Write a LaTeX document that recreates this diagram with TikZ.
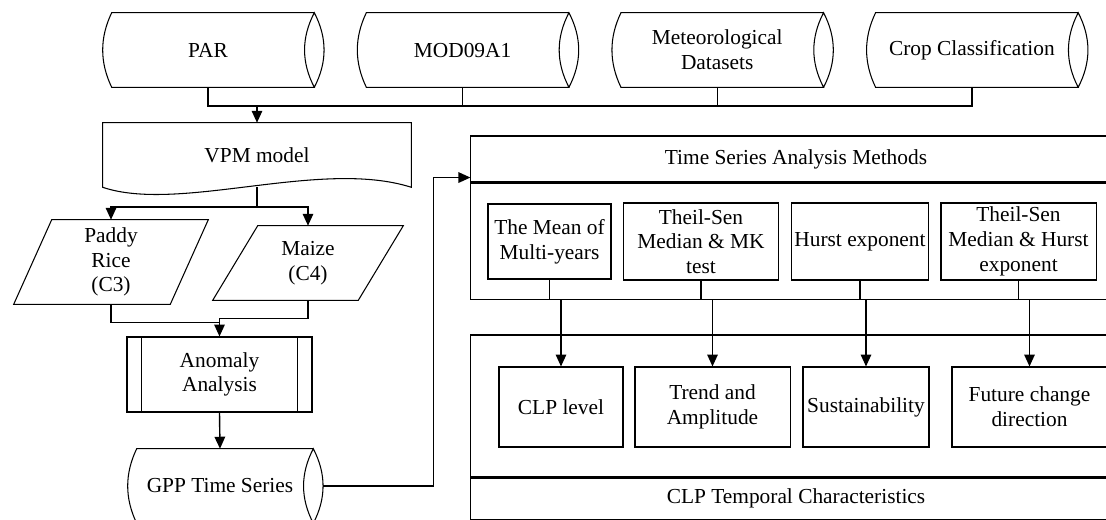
\documentclass[tikz,border=0pt]{standalone}
\usepackage{fontspec}
\setmainfont{Liberation Serif}
\usepackage{tikz}
\usetikzlibrary{arrows.meta, positioning, calc}

% data store: flat left side, lens on the right
\newcommand{\datacyl}[1]{%
  \draw[shapeline] ($(#1.north east)+(10,0)$) -- (#1.north west)
    .. controls +(-12,25) and +(-12,-25) .. (#1.south west)
    -- ($(#1.south east)+(10,0)$)
    .. controls +(-13,-25) and +(-13,25) .. ($(#1.north east)+(10,0)$)
    .. controls +(13,25) and +(13,-25) .. ($(#1.south east)+(10,0)$);
}
% document shape with a wavy bottom
\newcommand{\docshape}[1]{%
  \draw[shapeline] (#1.south west) -- (#1.north west) -- (#1.north east) -- (#1.south east)
    .. controls +(-91,-29) and +(77,26) .. (#1.south west) -- cycle;
}
% parallelogram leaning to the right
\newcommand{\slantbox}[2]{%
  \draw[shapeline] ($(#1.south west)+(-#2,0)$) -- ($(#1.north west)+(#2,0)$)
    -- ($(#1.north east)+(#2,0)$) -- ($(#1.south east)+(-#2,0)$) -- cycle;
}

\begin{document}
\begin{tikzpicture}[
    x=0.025cm, y=-0.025cm,
    node distance=1.55cm,
    shapeline/.style={line width=0.75pt},
    plain/.style={rectangle, align=center, inner sep=1pt, font=\fontsize{15.2}{17.6}\selectfont},
    box/.style={plain, draw=black, line width=0.75pt},
    cylbody/.style={plain, minimum width=4.8cm, minimum height=1.85cm},
    line/.style={line width=1pt},
    arrow/.style={-{Triangle[length=8.5pt, width=7.5pt]}, line width=1pt},
]
\path[use as bounding box] (0,0) rectangle (1106,520);
\clip (0,0) rectangle (1106,520);

% Input data
\node[cylbody] (par) at (208,50) {PAR};
\node[cylbody, right=of par] (mod) {MOD09A1};
\node[cylbody, right=of mod] (met) {Meteorological\\Datasets};
\node[cylbody, right=of met] (crop) {Crop Classification};
\datacyl{par}
\datacyl{mod}
\datacyl{met}
\datacyl{crop}

% Model and crop types
\node[plain, minimum width=7.7cm, minimum height=1.6cm] (vpm) at (257,155) {VPM model};
\docshape{vpm}
\node[plain, minimum width=3.9cm, minimum height=2.1cm] (paddy) at (111,262) {Paddy\\Rice\\(C3)};
\slantbox{paddy}{19}
\node[plain, minimum width=3.625cm, minimum height=1.85cm] (maize) at (308,263) {Maize\\(C4)};
\slantbox{maize}{22.5}

% Anomaly step and GPP output
\node[box, minimum width=4.625cm, minimum height=1.875cm] (anom) at (219.5,374.5) {Anomaly\\Analysis};
\draw[shapeline] ($(anom.north west)+(15,0)$) -- ($(anom.south west)+(15,0)$);
\draw[shapeline] ($(anom.north east)+(-15,0)$) -- ($(anom.south east)+(-15,0)$);
\node[cylbody, minimum width=4.15cm] (gpp) at (220,486) {GPP Time Series};
\datacyl{gpp}

% Time series analysis methods
\node[box, minimum width=16.25cm, minimum height=1.15cm] (tshead) at (796,159) {Time Series Analysis Methods};
\node[box, minimum width=16.25cm, minimum height=2.9cm, below=0cm of tshead] (tsbody) {};
\node[box, minimum width=3.075cm, minimum height=1.875cm] (mmean) at (549.5,241.5) {The Mean of\\Multi-years};
\node[box, minimum width=3.86cm, minimum height=1.925cm] (mmk) at (701,241.5) {Theil-Sen\\Median \& MK\\test};
\node[box, minimum width=3.41cm, minimum height=1.925cm] (mhurst) at (860,241.5) {Hurst exponent};
\node[box, minimum width=3.875cm, minimum height=1.925cm] (mtsh) at (1018.5,241.5) {Theil-Sen\\Median \& Hurst\\exponent};

% CLP temporal characteristics
\node[box, minimum width=16.25cm, minimum height=3.55cm] (clpbody) at (796,406) {};
\node[box, minimum width=16.25cm, minimum height=1.025cm, below=0cm of clpbody] (clpfoot) {CLP Temporal Characteristics};
\node[box, minimum width=3.1cm, minimum height=2cm] (clplevel) at (561,407) {CLP level};
\node[box, minimum width=3.875cm, minimum height=2cm] (trend) at (712.5,407) {Trend and\\Amplitude};
\node[box, minimum width=3.15cm, minimum height=2cm] (sustain) at (866,407) {Sustainability};
\node[box, minimum width=3.875cm, minimum height=2cm] (future) at (1029.5,407) {Future change\\direction};

% Arrows
\coordinate (merge) at (0,106);
\draw[line] (par.south) -- (par.south |- merge) -- (crop.south |- merge) -- (crop.south);
\draw[line] (mod.south) -- (mod.south |- merge);
\draw[line] (met.south) -- (met.south |- merge);
\draw[arrow] (vpm.north |- merge) -- (vpm.north);

\coordinate (split) at (257,207);
\draw[line] (vpm.south) -- (split);
\draw[arrow] (split) -| (paddy.north);
\draw[arrow] (split) -| (maize.north);

\draw[line] (paddy.south) |- ($(anom.north)+(0,-14)$);
\draw[arrow] (maize.south) |- ($(anom.north)+(0,-18)$) -- (anom.north);
\draw[arrow] (anom.south) -- (gpp.north);

\coordinate (gppout) at ($(gpp.east)+(20,0)$);
\coordinate (tsin) at ($(tshead.south west)+(0,-5)$);
\draw[arrow] (gppout) -| ($(tsin)+(-37,0)$) -- (tsin);

\draw[arrow] (mmean.south) -- (mmean.south |- tsbody.south) -| (clplevel.north);
\draw[arrow] (mmk.south) -- (mmk.south |- tsbody.south) -| (trend.north);
\draw[arrow] (mhurst.south) -- (mhurst.south |- tsbody.south) -| (sustain.north);
\draw[arrow] (mtsh.south) -- (mtsh.south |- tsbody.south) -| (future.north);

\end{tikzpicture}
\end{document}
